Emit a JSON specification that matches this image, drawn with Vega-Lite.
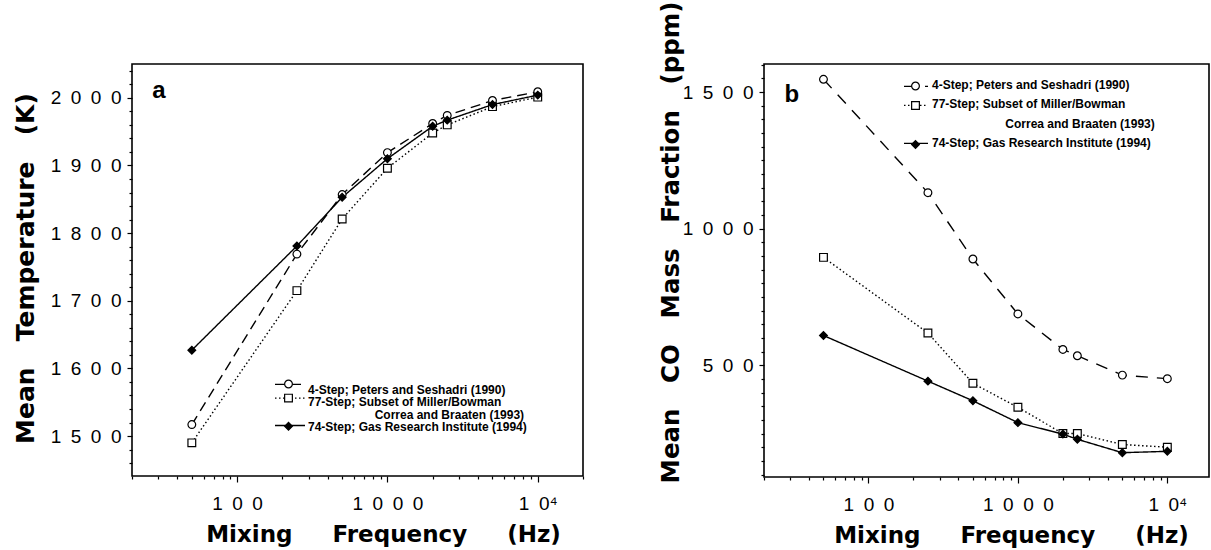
{
  "$schema": "https://vega.github.io/schema/vega-lite/v6.json",
  "background": "white",
  "autosize": {"type": "pad"},
  "padding": {"left": 12, "top": 0, "right": 0, "bottom": 0},
  "bounds": "flush",
  "spacing": 181,
  "datasets": {
    "temp": [
      {"f": 50, "v": 1517, "s": "4-Step; Peters and Seshadri (1990)"},
      {"f": 250, "v": 1769, "s": "4-Step; Peters and Seshadri (1990)"},
      {"f": 500, "v": 1857, "s": "4-Step; Peters and Seshadri (1990)"},
      {"f": 1000, "v": 1919, "s": "4-Step; Peters and Seshadri (1990)"},
      {"f": 2000, "v": 1962, "s": "4-Step; Peters and Seshadri (1990)"},
      {"f": 2500, "v": 1974, "s": "4-Step; Peters and Seshadri (1990)"},
      {"f": 5000, "v": 1996, "s": "4-Step; Peters and Seshadri (1990)"},
      {"f": 10000, "v": 2009, "s": "4-Step; Peters and Seshadri (1990)"},
      {"f": 50, "v": 1490, "s": "77-Step; Subset of Miller/Bowman Correa and Braaten (1993)"},
      {"f": 250, "v": 1715, "s": "77-Step; Subset of Miller/Bowman Correa and Braaten (1993)"},
      {"f": 500, "v": 1821, "s": "77-Step; Subset of Miller/Bowman Correa and Braaten (1993)"},
      {"f": 1000, "v": 1896, "s": "77-Step; Subset of Miller/Bowman Correa and Braaten (1993)"},
      {"f": 2000, "v": 1948, "s": "77-Step; Subset of Miller/Bowman Correa and Braaten (1993)"},
      {"f": 2500, "v": 1960, "s": "77-Step; Subset of Miller/Bowman Correa and Braaten (1993)"},
      {"f": 5000, "v": 1987, "s": "77-Step; Subset of Miller/Bowman Correa and Braaten (1993)"},
      {"f": 10000, "v": 2001, "s": "77-Step; Subset of Miller/Bowman Correa and Braaten (1993)"},
      {"f": 50, "v": 1627, "s": "74-Step; Gas Research Institute (1994)"},
      {"f": 250, "v": 1781, "s": "74-Step; Gas Research Institute (1994)"},
      {"f": 500, "v": 1853, "s": "74-Step; Gas Research Institute (1994)"},
      {"f": 1000, "v": 1910, "s": "74-Step; Gas Research Institute (1994)"},
      {"f": 2000, "v": 1958, "s": "74-Step; Gas Research Institute (1994)"},
      {"f": 2500, "v": 1967, "s": "74-Step; Gas Research Institute (1994)"},
      {"f": 5000, "v": 1990, "s": "74-Step; Gas Research Institute (1994)"},
      {"f": 10000, "v": 2004, "s": "74-Step; Gas Research Institute (1994)"}
    ],
    "co": [
      {"f": 50, "v": 1547, "s": "4-Step; Peters and Seshadri (1990)"},
      {"f": 250, "v": 1132, "s": "4-Step; Peters and Seshadri (1990)"},
      {"f": 500, "v": 889, "s": "4-Step; Peters and Seshadri (1990)"},
      {"f": 1000, "v": 688, "s": "4-Step; Peters and Seshadri (1990)"},
      {"f": 2000, "v": 558, "s": "4-Step; Peters and Seshadri (1990)"},
      {"f": 2500, "v": 535, "s": "4-Step; Peters and Seshadri (1990)"},
      {"f": 5000, "v": 464, "s": "4-Step; Peters and Seshadri (1990)"},
      {"f": 10000, "v": 451, "s": "4-Step; Peters and Seshadri (1990)"},
      {"f": 50, "v": 895, "s": "77-Step; Subset of Miller/Bowman Correa and Braaten (1993)"},
      {"f": 250, "v": 618, "s": "77-Step; Subset of Miller/Bowman Correa and Braaten (1993)"},
      {"f": 500, "v": 434, "s": "77-Step; Subset of Miller/Bowman Correa and Braaten (1993)"},
      {"f": 1000, "v": 346, "s": "77-Step; Subset of Miller/Bowman Correa and Braaten (1993)"},
      {"f": 2000, "v": 250, "s": "77-Step; Subset of Miller/Bowman Correa and Braaten (1993)"},
      {"f": 2500, "v": 250, "s": "77-Step; Subset of Miller/Bowman Correa and Braaten (1993)"},
      {"f": 5000, "v": 210, "s": "77-Step; Subset of Miller/Bowman Correa and Braaten (1993)"},
      {"f": 10000, "v": 200, "s": "77-Step; Subset of Miller/Bowman Correa and Braaten (1993)"},
      {"f": 50, "v": 609, "s": "74-Step; Gas Research Institute (1994)"},
      {"f": 250, "v": 442, "s": "74-Step; Gas Research Institute (1994)"},
      {"f": 500, "v": 370, "s": "74-Step; Gas Research Institute (1994)"},
      {"f": 1000, "v": 290, "s": "74-Step; Gas Research Institute (1994)"},
      {"f": 2000, "v": 248, "s": "74-Step; Gas Research Institute (1994)"},
      {"f": 2500, "v": 229, "s": "74-Step; Gas Research Institute (1994)"},
      {"f": 5000, "v": 180, "s": "74-Step; Gas Research Institute (1994)"},
      {"f": 10000, "v": 185, "s": "74-Step; Gas Research Institute (1994)"}
    ]
  },
  "config": {
    "view": {"stroke": "black", "strokeWidth": 1.6},
    "axis": {
      "domain": false, "grid": false, "ticks": true, "tickColor": "black", "tickWidth": 1.2,
      "labelFont": "Liberation Sans", "labelFontSize": 19, "labelColor": "black",
      "labelOverlap": false, "labelFlush": false,
      "titleFont": "DejaVu Sans", "titleFontWeight": "bold", "titleColor": "black"
    },
    "legend": {
      "title": null, "orient": "none", "padding": 0,
      "labelFont": "Liberation Sans", "labelFontSize": 12, "labelFontWeight": "bold", "labelColor": "black",
      "labelLimit": 500, "labelOffset": 0, "labelBaseline": "alphabetic"
    }
  },
  "resolve": {
    "scale": {"strokeDash": "independent", "shape": "independent", "fill": "independent", "stroke": "independent", "color": "independent"},
    "legend": {"strokeDash": "independent", "shape": "independent", "fill": "independent", "stroke": "independent", "color": "independent"}
  },
  "hconcat": [
    {
      "width": 451,
      "height": 412,
      "data": {"name": "temp"},
      "encoding": {
        "x": {
          "field": "f", "type": "quantitative",
          "scale": {"type": "log", "domain": [20, 20000]},
          "axis": {
            "values": [20, 30, 40, 50, 60, 70, 80, 90, 100, 200, 300, 400, 500, 600, 700, 800, 900, 1000, 2000, 3000, 4000, 5000, 6000, 7000, 8000, 9000, 10000, 20000],
            "labelExpr": "datum.value == 100 ? '1\u20020\u20020' : datum.value == 1000 ? '1\u20020\u20020\u20020' : datum.value == 10000 ? '1\u20020\u2074' : ''",
            "tickSize": {"condition": {"test": "datum.value == 100 || datum.value == 1000 || datum.value == 10000", "value": 6}, "value": 3},
            "labelPadding": 12,
            "title": "Mixing\u00a0\u00a0\u00a0\u00a0\u00a0Frequency\u00a0\u00a0\u00a0\u00a0\u00a0(Hz)",
            "titleFontSize": 23, "titleX": 251, "titleY": 65, "titleBaseline": "alphabetic", "titleAlign": "center", "titleAngle": 0
          }
        },
        "y": {
          "field": "v", "type": "quantitative",
          "scale": {"domain": [1441, 2050], "zero": false, "nice": false},
          "axis": {
            "values": [1460, 1480, 1500, 1520, 1540, 1560, 1580, 1600, 1620, 1640, 1660, 1680, 1700, 1720, 1740, 1760, 1780, 1800, 1820, 1840, 1860, 1880, 1900, 1920, 1940, 1960, 1980, 2000, 2020, 2040],
            "labelExpr": "datum.value % 100 == 0 ? join(split(toString(datum.value), ''), '\u2002') : ''",
            "tickSize": {"condition": {"test": "datum.value % 100 == 0", "value": 5}, "value": 3},
            "labelPadding": 6,
            "title": "Mean\u00a0\u00a0\u00a0Temperature\u00a0\u00a0\u00a0(K)",
            "titleFontSize": 25, "titleX": -99, "titleY": 204, "titleBaseline": "alphabetic", "titleAlign": "center", "titleAngle": 270
          }
        }
      },
      "layer": [
        {
          "mark": {"type": "line", "strokeWidth": 1.4},
          "encoding": {
            "strokeDash": {
              "field": "s", "type": "nominal",
              "scale": {"domain": ["4-Step; Peters and Seshadri (1990)", "77-Step; Subset of Miller/Bowman Correa and Braaten (1993)", "gap", "74-Step; Gas Research Institute (1994)"], "range": [[10, 6], [1.5, 2.5], [0, 100], [1, 0]]},
              "legend": {
                "legendX": 152, "legendY": 314.4, "symbolType": "M-3,0H3", "symbolSize": 100,
                "symbolStrokeColor": "black", "symbolStrokeWidth": 1.3, "labelOpacity": 0, "labelFontSize": 1,
                "rowPadding": 4.7, "labelExpr": "''",
                "values": ["4-Step; Peters and Seshadri (1990)", "77-Step; Subset of Miller/Bowman Correa and Braaten (1993)", "gap", "74-Step; Gas Research Institute (1994)"]
              }
            },
            "color": {
              "field": "s", "type": "nominal",
              "scale": {"domain": ["74-Step; Gas Research Institute (1994)", "4-Step; Peters and Seshadri (1990)", "77-Step; Subset of Miller/Bowman Correa and Braaten (1993)", "gap"], "range": ["black", "black", "black", "black"]},
              "legend": {
                "legendX": 164, "legendY": 324, "symbolType": "stroke", "symbolSize": 1, "symbolOpacity": 0,
                "rowPadding": 0.3,
                "values": ["4-Step; Peters and Seshadri (1990)", "77-Step; Subset of Miller/Bowman Correa and Braaten (1993)", "gap", "74-Step; Gas Research Institute (1994)"],
                "labelExpr": "datum.label == 'gap' ? '\u200b\u00a0\u00a0\u00a0\u00a0\u00a0\u00a0\u00a0\u00a0\u00a0\u00a0\u00a0\u00a0\u00a0\u00a0\u00a0\u00a0\u00a0\u00a0\u00a0\u00a0Correa and Braaten (1993)' : datum.label == '77-Step; Subset of Miller/Bowman Correa and Braaten (1993)' ? '77-Step; Subset of Miller/Bowman' : datum.label"
              }
            }
          }
        },
        {
          "mark": {"type": "point", "filled": true, "strokeWidth": 1.2, "size": 60, "opacity": 1},
          "encoding": {
            "shape": {
              "field": "s", "type": "nominal",
              "scale": {"domain": ["77-Step; Subset of Miller/Bowman Correa and Braaten (1993)", "4-Step; Peters and Seshadri (1990)", "gap", "74-Step; Gas Research Institute (1994)"], "range": ["square", "circle", "circle", "diamond"]},
              "legend": {
                "legendX": 152, "legendY": 315.5, "symbolSize": 60, "symbolStrokeWidth": 1.2, "labelOpacity": 0, "labelFontSize": 1,
                "rowPadding": 1.1, "labelExpr": "''",
                "values": ["4-Step; Peters and Seshadri (1990)", "77-Step; Subset of Miller/Bowman Correa and Braaten (1993)", "gap", "74-Step; Gas Research Institute (1994)"]
              }
            },
            "fill": {
              "field": "s", "type": "nominal",
              "scale": {"domain": ["77-Step; Subset of Miller/Bowman Correa and Braaten (1993)", "4-Step; Peters and Seshadri (1990)", "gap", "74-Step; Gas Research Institute (1994)"], "range": ["white", "white", "transparent", "black"]},
              "legend": {
                "legendX": 152, "legendY": 315.5, "symbolSize": 60, "symbolStrokeWidth": 1.2, "labelOpacity": 0, "labelFontSize": 1,
                "rowPadding": 1.1, "labelExpr": "''",
                "values": ["4-Step; Peters and Seshadri (1990)", "77-Step; Subset of Miller/Bowman Correa and Braaten (1993)", "gap", "74-Step; Gas Research Institute (1994)"]
              }
            },
            "stroke": {
              "field": "s", "type": "nominal",
              "scale": {"domain": ["77-Step; Subset of Miller/Bowman Correa and Braaten (1993)", "4-Step; Peters and Seshadri (1990)", "gap", "74-Step; Gas Research Institute (1994)"], "range": ["black", "black", "transparent", "black"]},
              "legend": {
                "legendX": 152, "legendY": 315.5, "symbolSize": 60, "symbolStrokeWidth": 1.2, "labelOpacity": 0, "labelFontSize": 1,
                "rowPadding": 1.1, "labelExpr": "''",
                "values": ["4-Step; Peters and Seshadri (1990)", "77-Step; Subset of Miller/Bowman Correa and Braaten (1993)", "gap", "74-Step; Gas Research Institute (1994)"]
              }
            }
          }
        },
        {
          "transform": [{"filter": "datum.f == 50 && datum.v == 1517"}],
          "mark": {"type": "text", "align": "left", "baseline": "alphabetic", "font": "Liberation Sans", "fontSize": 24, "fontWeight": "bold", "color": "black"},
          "encoding": {"x": {"datum": 27.3}, "y": {"datum": 2000}, "text": {"value": "a"}}
        }
      ]
    },
    {
      "width": 445,
      "height": 413,
      "data": {"name": "co"},
      "encoding": {
        "x": {
          "field": "f", "type": "quantitative",
          "scale": {"type": "log", "domain": [20, 19000]},
          "axis": {
            "values": [20, 30, 40, 50, 60, 70, 80, 90, 100, 200, 300, 400, 500, 600, 700, 800, 900, 1000, 2000, 3000, 4000, 5000, 6000, 7000, 8000, 9000, 10000],
            "labelExpr": "datum.value == 100 ? '1\u20020\u20020' : datum.value == 1000 ? '1\u20020\u20020\u20020' : datum.value == 10000 ? '1\u20020\u2074' : ''",
            "tickSize": {"condition": {"test": "datum.value == 100 || datum.value == 1000 || datum.value == 10000", "value": 6}, "value": 3},
            "labelPadding": 12,
            "title": "Mixing\u00a0\u00a0\u00a0\u00a0\u00a0Frequency\u00a0\u00a0\u00a0\u00a0\u00a0(Hz)",
            "titleFontSize": 23, "titleX": 247, "titleY": 65, "titleBaseline": "alphabetic", "titleAlign": "center", "titleAngle": 0
          }
        },
        "y": {
          "field": "v", "type": "quantitative",
          "scale": {"domain": [91, 1603], "zero": false, "nice": false},
          "axis": {
            "values": [100, 150, 200, 250, 300, 350, 400, 450, 500, 550, 600, 650, 700, 750, 800, 850, 900, 950, 1000, 1050, 1100, 1150, 1200, 1250, 1300, 1350, 1400, 1450, 1500, 1550, 1600],
            "labelExpr": "datum.value % 500 == 0 ? join(split(toString(datum.value), ''), '\u2002') : ''",
            "tickSize": {"condition": {"test": "datum.value % 500 == 0", "value": 5}, "value": 3},
            "labelPadding": 6,
            "title": "Mean\u00a0\u00a0\u00a0CO\u00a0\u00a0\u00a0Mass\u00a0\u00a0\u00a0Fraction\u00a0\u00a0\u00a0(ppm)",
            "titleFontSize": 24.5, "titleX": -86, "titleY": 178, "titleBaseline": "alphabetic", "titleAlign": "center", "titleAngle": 270
          }
        }
      },
      "layer": [
        {
          "mark": {"type": "line", "strokeWidth": 1.4},
          "encoding": {
            "strokeDash": {
              "field": "s", "type": "nominal",
              "scale": {"domain": ["4-Step; Peters and Seshadri (1990)", "77-Step; Subset of Miller/Bowman Correa and Braaten (1993)", "gap", "74-Step; Gas Research Institute (1994)"], "range": [[12, 9], [1.5, 2.5], [0, 100], [1, 0]]},
              "legend": {
                "legendX": 146, "legendY": 16.4, "symbolType": "M-2.4,0H2.4", "symbolSize": 100,
                "symbolStrokeColor": "black", "symbolStrokeWidth": 1.3, "labelOpacity": 0, "labelFontSize": 1,
                "rowPadding": 10, "labelExpr": "''",
                "values": ["4-Step; Peters and Seshadri (1990)", "77-Step; Subset of Miller/Bowman Correa and Braaten (1993)", "gap", "74-Step; Gas Research Institute (1994)"]
              }
            },
            "color": {
              "field": "s", "type": "nominal",
              "scale": {"domain": ["74-Step; Gas Research Institute (1994)", "4-Step; Peters and Seshadri (1990)", "77-Step; Subset of Miller/Bowman Correa and Braaten (1993)", "gap"], "range": ["black", "black", "black", "black"]},
              "legend": {
                "legendX": 156, "legendY": 19, "symbolType": "stroke", "symbolSize": 1, "symbolOpacity": 0,
                "rowPadding": 7.4,
                "values": ["4-Step; Peters and Seshadri (1990)", "77-Step; Subset of Miller/Bowman Correa and Braaten (1993)", "gap", "74-Step; Gas Research Institute (1994)"],
                "labelExpr": "datum.label == 'gap' ? '\u200b\u00a0\u00a0\u00a0\u00a0\u00a0\u00a0\u00a0\u00a0\u00a0\u00a0\u00a0\u00a0\u00a0\u00a0\u00a0\u00a0\u00a0\u00a0\u00a0\u00a0\u00a0\u00a0Correa and Braaten (1993)' : datum.label == '77-Step; Subset of Miller/Bowman Correa and Braaten (1993)' ? '77-Step; Subset of Miller/Bowman' : datum.label"
              }
            }
          }
        },
        {
          "mark": {"type": "point", "filled": true, "strokeWidth": 1.2, "size": 60, "opacity": 1},
          "encoding": {
            "shape": {
              "field": "s", "type": "nominal",
              "scale": {"domain": ["77-Step; Subset of Miller/Bowman Correa and Braaten (1993)", "4-Step; Peters and Seshadri (1990)", "gap", "74-Step; Gas Research Institute (1994)"], "range": ["square", "circle", "circle", "diamond"]},
              "legend": {
                "legendX": 147, "legendY": 17.5, "symbolSize": 60, "symbolStrokeWidth": 1.2, "labelOpacity": 0, "labelFontSize": 1,
                "rowPadding": 6.5, "labelExpr": "''",
                "values": ["4-Step; Peters and Seshadri (1990)", "77-Step; Subset of Miller/Bowman Correa and Braaten (1993)", "gap", "74-Step; Gas Research Institute (1994)"]
              }
            },
            "fill": {
              "field": "s", "type": "nominal",
              "scale": {"domain": ["77-Step; Subset of Miller/Bowman Correa and Braaten (1993)", "4-Step; Peters and Seshadri (1990)", "gap", "74-Step; Gas Research Institute (1994)"], "range": ["white", "white", "transparent", "black"]},
              "legend": {
                "legendX": 147, "legendY": 17.5, "symbolSize": 60, "symbolStrokeWidth": 1.2, "labelOpacity": 0, "labelFontSize": 1,
                "rowPadding": 6.5, "labelExpr": "''",
                "values": ["4-Step; Peters and Seshadri (1990)", "77-Step; Subset of Miller/Bowman Correa and Braaten (1993)", "gap", "74-Step; Gas Research Institute (1994)"]
              }
            },
            "stroke": {
              "field": "s", "type": "nominal",
              "scale": {"domain": ["77-Step; Subset of Miller/Bowman Correa and Braaten (1993)", "4-Step; Peters and Seshadri (1990)", "gap", "74-Step; Gas Research Institute (1994)"], "range": ["black", "black", "transparent", "black"]},
              "legend": {
                "legendX": 147, "legendY": 17.5, "symbolSize": 60, "symbolStrokeWidth": 1.2, "labelOpacity": 0, "labelFontSize": 1,
                "rowPadding": 6.5, "labelExpr": "''",
                "values": ["4-Step; Peters and Seshadri (1990)", "77-Step; Subset of Miller/Bowman Correa and Braaten (1993)", "gap", "74-Step; Gas Research Institute (1994)"]
              }
            }
          }
        },
        {
          "transform": [{"filter": "datum.f == 50 && datum.v == 1547"}],
          "mark": {"type": "text", "align": "left", "baseline": "alphabetic", "font": "Liberation Sans", "fontSize": 24, "fontWeight": "bold", "color": "black"},
          "encoding": {"x": {"datum": 27.4}, "y": {"datum": 1464}, "text": {"value": "b"}}
        }
      ]
    }
  ]
}
